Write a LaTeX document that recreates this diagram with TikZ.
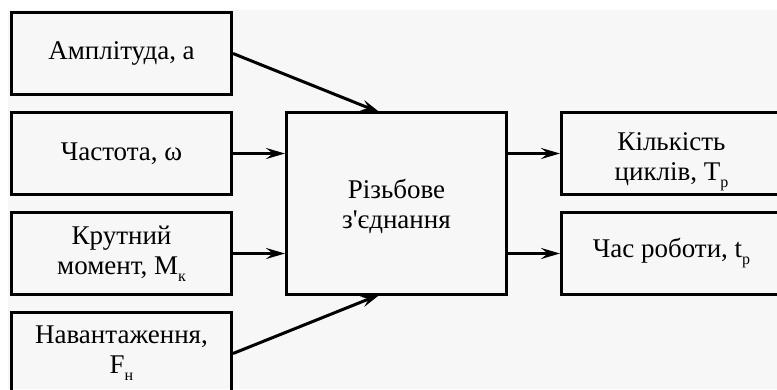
\documentclass[tikz,border=0pt]{standalone}
\usepackage{fontspec}
\setmainfont{Liberation Serif}
\usetikzlibrary{arrows.meta}
\definecolor{bggrey}{HTML}{F7F7F7}
\newcommand{\lsub}[1]{\raisebox{-7pt}{\fontsize{16}{16}\selectfont #1}}
\newcommand{\lowered}[2]{\raisebox{-#1}[\height][\depth]{\begin{tabular}{@{}c@{}}#2\end{tabular}}}
\begin{document}
\begin{tikzpicture}[x=1pt,y=-1pt,
  blk/.style={draw=black, line width=3pt, minimum width=220pt, minimum height=82pt,
    inner sep=0pt, align=center, font=\fontsize{27}{30}\selectfont},
  conn/.style={line width=3pt, -{Stealth[length=19pt,width=11pt,inset=7pt]}},
  plain/.style={line width=3pt}]
\useasboundingbox (0,0) rectangle (777,389);
\fill[white] (0,0) rectangle (777,389);
\fill[bggrey] (8,10) rectangle (777,389);
\clip (0,0) rectangle (777,389);
\node[blk] (a) at (121.5,53.5) {Амплітуда, а};
\node[blk] (w) at (121.5,153.5) {Частота, ω};
\node[blk] (m) at (121.5,253.5) {Крутний\\момент, М\lsub{к}};
\node[blk] (f) at (121.5,353.5) {Навантаження,\\F\lsub{н}};
\node[blk, minimum height=182pt] (c) at (396.5,203.5) {\lowered{4pt}{Різьбове\\з\textquotesingle єднання}};
\node[blk] (n) at (671.5,153.5) {\lowered{7pt}{Кількість\\циклів, Т\lsub{р}}};
\node[blk] (t) at (671.5,253.5) {Час роботи, t\lsub{р}};
\coordinate (ctop) at (380,112.5);
\coordinate (cbot) at (380,294.5);
\draw[conn] (a.east) -- (ctop);
\draw[conn] (f.east) -- (cbot);
\draw[conn] (w.east) -- (c.west |- w.east);
\draw[conn] (m.east) -- (c.west |- m.east);
\draw[conn] (c.east |- n.west) -- (n.west);
\draw[conn] (c.east |- t.west) -- (t.west);
\end{tikzpicture}
\end{document}
